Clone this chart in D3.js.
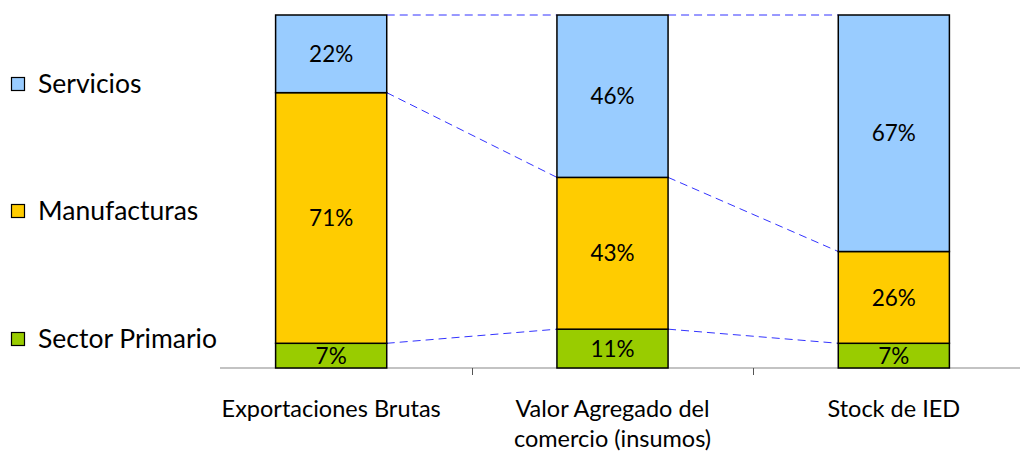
<!DOCTYPE html>
<html>
<head>
<meta charset="utf-8">
<script src="https://cdn.jsdelivr.net/npm/d3@7"></script>
<style>
  body { margin: 0; background: #fff; }
  text { font-family: Lato, 'Open Sans', sans-serif; fill: #000; }
</style>
</head>
<body>
<div class="canvas"></div>
<script>
const categories = [['Exportaciones Brutas'], ['Valor Agregado del', 'comercio (insumos)'], ['Stock de IED']];
const seriesNames = ['Sector Primario', 'Manufacturas', 'Servicios'];
const primario = [7, 11, 7];
const manufacturas = [71, 43, 26];
const servicios = [22, 46, 67];
const colours = ['#99cc00', '#ffcc00', '#99ccff'];

const dims = { width: 1023, height: 456 };
const svg = d3.select('.canvas').append('svg')
  .attr('width', dims.width)
  .attr('height', dims.height);

const keys = categories.map((c) => c.join(' '));
const rows = keys.map((k, i) => ({
  key: k,
  'Sector Primario': primario[i],
  'Manufacturas': manufacturas[i],
  'Servicios': servicios[i],
}));

const x = d3.scaleBand()
  .domain(keys)
  .range([190.5, 1034.5])
  .paddingInner(0.605)
  .paddingOuter(0.3025);
const y = d3.scaleLinear().domain([0, 100]).range([368, 15]);

const stack = d3.stack().keys(seriesNames);
const layers = stack(rows);

// connector dashed lines between bars (top of each segment)
const links = svg.append('g');
layers.forEach((layer) => {
  for (let i = 0; i < layer.length - 1; i++) {
    links.append('line')
      .attr('x1', x(keys[i]) + x.bandwidth())
      .attr('y1', y(layer[i][1]))
      .attr('x2', x(keys[i + 1]))
      .attr('y2', y(layer[i + 1][1]))
      .attr('stroke', '#3333ff')
      .attr('stroke-width', 1)
      .attr('stroke-dasharray', '8,5');
  }
});

// axis line + ticks between categories
svg.append('line')
  .attr('x1', 220).attr('x2', 1020)
  .attr('y1', 368).attr('y2', 368)
  .attr('stroke', '#888').attr('stroke-width', 1.2);
keys.slice(0, -1).forEach((k) => {
  const tx = Math.round(x(k) + x.bandwidth() + x.step() * x.paddingInner() / 2) + 0.5;
  svg.append('line')
    .attr('x1', tx).attr('x2', tx)
    .attr('y1', 368).attr('y2', 375)
    .attr('stroke', '#555').attr('stroke-width', 1);
});

// bars
const groups = svg.append('g').selectAll('g')
  .data(layers).enter().append('g')
  .attr('fill', (d, i) => colours[i]);

groups.selectAll('rect')
  .data((d) => d.map((v, i) => ({ v, i })))
  .enter().append('rect')
  .attr('x', (d) => x(keys[d.i]))
  .attr('y', (d) => y(d.v[1]))
  .attr('width', x.bandwidth())
  .attr('height', (d) => y(d.v[0]) - y(d.v[1]))
  .attr('stroke', '#000')
  .attr('stroke-width', 1.5);

// value labels
layers.forEach((layer) => {
  layer.forEach((v, i) => {
    svg.append('text')
      .attr('x', x(keys[i]) + x.bandwidth() / 2)
      .attr('y', (y(v[0]) + y(v[1])) / 2)
      .attr('dy', '0.36em')
      .attr('text-anchor', 'middle')
      .attr('font-size', 22.5)
      .text(`${v[1] - v[0]}%`);
  });
});

// category labels
categories.forEach((lines, i) => {
  const t = svg.append('text')
    .attr('text-anchor', 'middle')
    .attr('font-size', 23.5);
  lines.forEach((ln, j) => {
    t.append('tspan')
      .attr('x', x(keys[i]) + x.bandwidth() / 2)
      .attr('y', 417 + j * 30)
      .text(ln);
  });
});

// legend
const legendBase = [348, 220, 93];
seriesNames.forEach((name, i) => {
  svg.append('rect')
    .attr('x', 11.5).attr('y', legendBase[i] - 15.5)
    .attr('width', 13).attr('height', 13)
    .attr('fill', colours[i])
    .attr('stroke', '#000').attr('stroke-width', 1.2);
  svg.append('text')
    .attr('x', 38).attr('y', legendBase[i])
    .attr('font-size', 26.5)
    .text(name);
});
</script>
</body>
</html>
